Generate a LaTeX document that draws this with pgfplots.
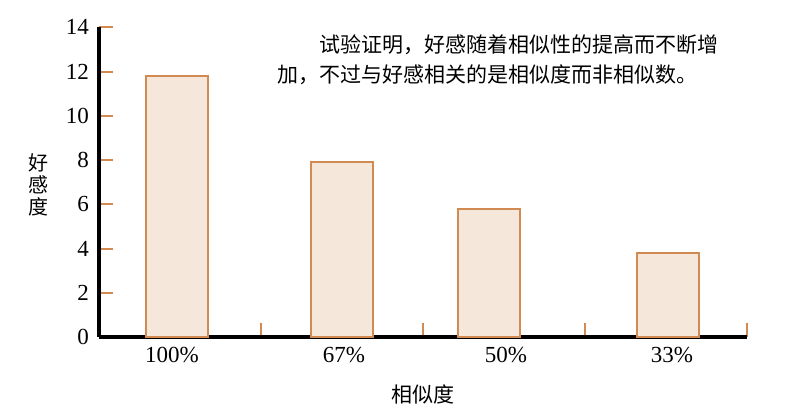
\documentclass[border=0pt]{standalone}
\usepackage{pgfplots}
\pgfplotsset{compat=1.18}
\usepackage{fontspec}
\setmainfont{Liberation Serif}
\newfontfamily\cjk{Noto Sans CJK SC}
\definecolor{barfill}{RGB}{245,232,218}
\definecolor{baredge}{RGB}{208,138,82}
\begin{document}
\begin{tikzpicture}[x=1pt,y=1pt]
\useasboundingbox (-49.5,-37.5) rectangle (350.5,168.5);
\begin{axis}[
at={(0,0)}, anchor=south west,
scale only axis,
width=324pt, height=154.85pt,
xmin=0, xmax=4, ymin=0, ymax=14,
axis x line*=bottom, axis y line*=left,
axis line style={black, line width=1.75pt},
tick align=inside,
major tick length=7pt, minor tick length=7pt,
ytick={0,2,...,14},
ytick style={color=baredge, line width=1pt},
xtick={0.45,1.512,2.512,3.537},
xticklabels={100\%,67\%,50\%,33\%},
major x tick style={draw=none},
minor xtick={1,2,3,4},
minor x tick style={draw=baredge, line width=1pt},
/pgf/number format/assume math mode=true,
tick label style={font=\fontsize{11.5}{13}\selectfont},
yticklabel style={xshift=-1.5pt},
xticklabel style={yshift=-1.5pt},
xlabel={\cjk 相似度},
every axis x label/.style={at={(axis description cs:0.5,-0.187)}, anchor=center, font=\fontsize{10.5}{12}\selectfont},
ylabel={\cjk 好\\\cjk 感\\\cjk 度},
every axis y label/.style={at={(axis description cs:-0.094,0.49)}, anchor=center, align=center, font=\fontsize{10}{11}\selectfont},
clip=false,
]
\addplot[ybar, bar width=31pt, fill=barfill, draw=baredge, line width=1pt]
coordinates {(0.481,11.8) (1.5,7.9) (2.41,5.8) (3.512,3.8)};
\node[anchor=north west, inner sep=0pt, align=left, font=\cjk\fontsize{10.5}{15}\selectfont]
at (axis cs:1.099,13.7)
{\hspace*{2em}试验证明，好感随着相似性的提高而不断增\\加，不过与好感相关的是相似度而非相似数。};
\end{axis}
\end{tikzpicture}
\end{document}
